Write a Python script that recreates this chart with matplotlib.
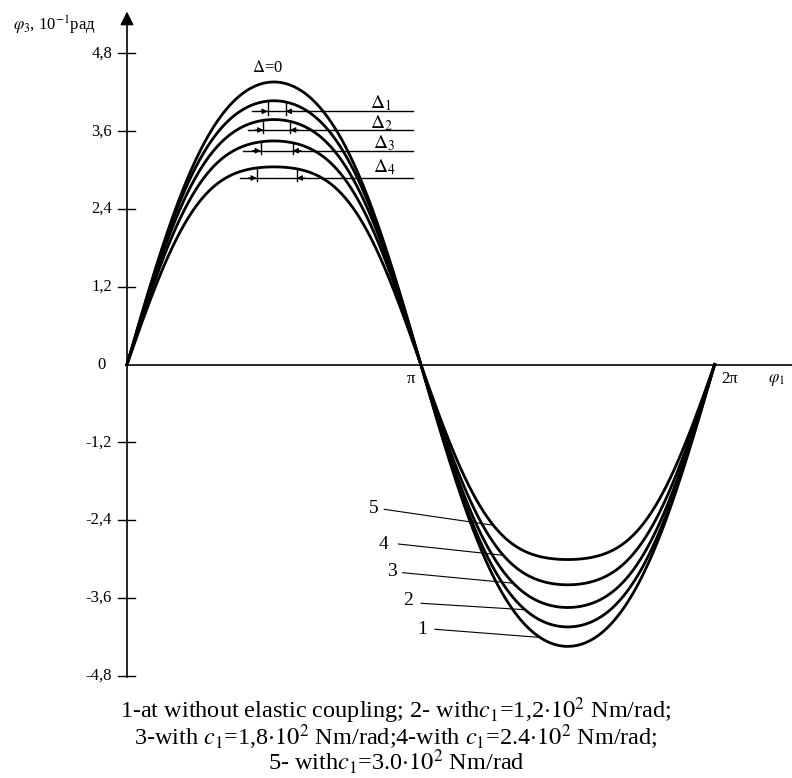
import numpy as np
import matplotlib
matplotlib.use("Agg")
import matplotlib.pyplot as plt

plt.rcParams['font.family'] = ['Liberation Serif', 'DejaVu Serif']
plt.rcParams['mathtext.fontset'] = 'stix'

# curve data (1 = without elastic coupling ... 5)
amp_upper = [4.36, 4.07, 3.78, 3.45, 3.05]
amp_lower = [4.35, 4.05, 3.75, 3.40, 3.01]
flat_k = [0.035, 0.05, 0.06, 0.07, 0.08]   # peak flattening of each curve

ytick_vals = [-4.8, -3.6, -2.4, -1.2, 1.2, 2.4, 3.6, 4.8]
ytick_labels = ["-4,8", "-3,6", "-2,4", "-1,2", "1,2", "2,4", "3,6", "4,8"]

# delta marks near the peaks
delta_names = [r"$\Delta_1$", r"$\Delta_2$", r"$\Delta_3$", r"$\Delta_4$"]
delta_level = [3.907, 3.619, 3.299, 2.878]
delta_half = [0.096, 0.143, 0.171, 0.214]
delta_x0 = [1.334, 1.291, 1.244, 1.208]
delta_lab_y = [4.04, 3.73, 3.42, 3.04]
delta_lab_x = [2.598, 2.598, 2.627, 2.627]
delta_cx = 1.601

# numbered leaders on the lower half
num_labels = ["1", "2", "3", "4", "5"]
num_lab_xy = [(3.151, -4.086), (3.008, -3.645), (2.830, -3.198), (2.741, -2.785), (2.634, -2.219)]
num_start = [(3.293, -4.086), (3.144, -3.685), (2.948, -3.213), (2.901, -2.770), (2.751, -2.235)]
num_end_x = [4.416, 4.256, 4.131, 4.024, 3.917]

caption = [
    r"1-at without elastic coupling; 2- with$c_{\mathit{1}}$=1,2$\cdot10^2$ Nm/rad;",
    r"3-with $c_{\mathit{1}}$=1,8$\cdot10^2$ Nm/rad;4-with $c_{\mathit{1}}$=2.4$\cdot10^2$ Nm/rad;",
    r"5- with$c_{\mathit{1}}$=3.0$\cdot10^2$ Nm/rad",
]


def shape(x, k):
    return (np.sin(x) + k * np.sin(3 * x)) / (1 - k)


def curve(i, x):
    x = np.asarray(x, dtype=float)
    up = amp_upper[i] * shape(x, flat_k[i])
    lo = amp_lower[i] * shape(x - np.pi, flat_k[i]) * -1
    return np.where(x <= np.pi, up, lo)


fig = plt.figure(figsize=(7.92, 7.78), dpi=100)
ax = fig.add_axes([0, 0, 1, 1])
sx = np.pi / 293.8
ax.set_xlim(-127 * sx, 665 * sx)
ax.set_ylim((364.5 - 778) / 64.8, 364.5 / 64.8)
ax.axis("off")

# axes
ax.plot([0, 665 * sx], [0, 0], color="black", lw=1.2)
ax.annotate("", xy=(0, 5.49), xytext=(0, -4.87),
            arrowprops=dict(arrowstyle="-|>", lw=1.2, color="black", mutation_scale=20))
for v, lab in zip(ytick_vals, ytick_labels):
    ax.plot([-0.096, 0.086], [v, v], color="black", lw=1.0)
    ax.text(-0.16, v, lab, ha="right", va="center", fontsize=12)
ax.text(-0.27, 0, "0", ha="center", va="center", fontsize=12)
ax.text(3.037, -0.22, "π", ha="center", va="center", fontsize=12)
ax.text(6.44, -0.22, "2π", ha="center", va="center", fontsize=12)
ax.text(6.94, -0.24, r"$\varphi_{\mathit{1}}$", ha="center", va="center", fontsize=12)
ax.text(-1.22, 5.23, r"$\varphi_{\mathit{3}}$, 10$^{-1}$рад", ha="left", va="center", fontsize=12)

x = np.linspace(0, 2 * np.pi, 800)
for i in range(5):
    ax.plot(x, curve(i, x), color="black", lw=2.0)

ax.text(1.50, 4.57, r"$\Delta$=0", ha="center", va="center", fontsize=12)

for j in range(4):
    lv = delta_level[j]
    ax.plot([delta_x0[j], 3.06], [lv, lv], color="black", lw=1.0)
    for s in (-1, 1):
        tx = delta_cx + s * delta_half[j]
        ax.plot([tx, tx], [float(curve(j + 1, tx)), lv - 0.05], color="black", lw=1.0)
        ax.annotate("", xy=(tx, lv), xytext=(tx + s * 0.09, lv),
                    arrowprops=dict(arrowstyle="-|>", lw=0.8, color="black",
                                    mutation_scale=8, shrinkA=0, shrinkB=0))
    ax.text(delta_lab_x[j], delta_lab_y[j], delta_names[j], ha="left", va="center", fontsize=14)

for i in range(5):
    ex = num_end_x[i]
    ey = float(curve(i, ex))
    ax.plot([num_start[i][0], ex], [num_start[i][1], ey], color="black", lw=0.8)
    ax.text(num_lab_xy[i][0], num_lab_xy[i][1], num_labels[i], ha="center", va="center", fontsize=14)

fig.text(0.5, 1 - 736 / 778, "\n".join(caption), ha="center", va="center",
         multialignment="center", fontsize=17.5, linespacing=0.82)

fig.savefig("out.png", dpi=100)
